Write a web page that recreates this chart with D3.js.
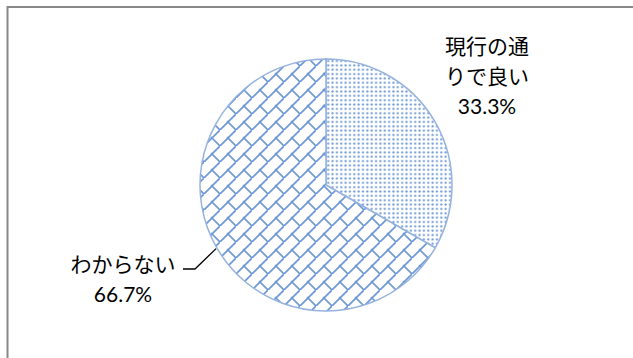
<!DOCTYPE html>
<html lang="ja">
    <head>
        <meta charset="utf-8">
        <title>Pie chart</title>
        <script src="https://cdn.jsdelivr.net/npm/d3@7"></script>
        <style>
            body { margin: 0; background: #fff; }
            text { font-family: "Lato", "Noto Sans CJK JP", sans-serif; fill: #000; }
        </style>
    </head>
    <body>
        <script>
            // Data
            var categories = ["現行の通りで良い", "わからない"];
            var values = [33.3, 66.7];
            var labelLines = [["現行の通", "りで良い"], ["わからない"]];

            // Layout
            var w = 633, h = 358;
            var cx = 326, cy = 185, r = 126;
            var labelPos = [[487, 47], [123, 265]];
            var lineGap = 30;

            var svg = d3.select("body").append("svg")
                .attr("width", w)
                .attr("height", h);

            var defs = svg.append("defs");

            // Small grid dots
            var dots = defs.append("pattern")
                .attr("id", "dots")
                .attr("patternUnits", "userSpaceOnUse")
                .attr("width", 4.35)
                .attr("height", 4.35);
            dots.append("rect").attr("width", 4.35).attr("height", 4.35).attr("fill", "#fff");
            dots.append("circle")
                .attr("cx", 2.2).attr("cy", 2.2).attr("r", 1.1)
                .attr("fill", "#6d98d8");

            // Diagonal brick
            var s = 16;
            var brick = defs.append("pattern")
                .attr("id", "brick")
                .attr("patternUnits", "userSpaceOnUse")
                .attr("width", s)
                .attr("height", s)
                .attr("x", cx)
                .attr("y", cy);
            brick.append("rect").attr("width", s).attr("height", s).attr("fill", "#fff");
            brick.append("path")
                .attr("d", "M" + (-1) + "," + (s + 1) + "L" + (s + 1) + "," + (-1) +
                           "M" + (s / 2 - 1) + "," + (s / 2 - 1) + "L" + (s + 1) + "," + (s + 1))
                .attr("stroke", "#6e98d8")
                .attr("stroke-width", 1.7)
                .attr("fill", "none");

            // Chart border (runs past the window on right and bottom)
            svg.append("rect")
                .attr("x", 7.5).attr("y", 7)
                .attr("width", 700).attr("height", 400)
                .attr("fill", "none")
                .attr("stroke", "#888")
                .attr("stroke-width", 2);

            var pie = d3.pie().sort(null).value(function(d) { return d; });
            var arcs = pie(values);
            var arc = d3.arc().innerRadius(0).outerRadius(r);
            var fills = ["url(#dots)", "url(#brick)"];

            var g = svg.append("g").attr("transform", "translate(" + cx + "," + cy + ")");

            g.selectAll("path.slice")
                .data(arcs)
                .enter()
                .append("path")
                .attr("class", "slice")
                .attr("d", arc)
                .attr("fill", function(d, i) { return fills[i]; })
                .attr("stroke", "#95b3de")
                .attr("stroke-width", 1.5);

            // Labels
            arcs.forEach(function(d, i) {
                var p = labelPos[i];
                var lines = labelLines[i].concat([values[i].toFixed(1) + "%"]);
                var t = svg.append("text")
                    .attr("text-anchor", "middle")
                    .attr("font-size", "21px");
                lines.forEach(function(line, k) {
                    t.append("tspan")
                        .attr("x", p[0])
                        .attr("y", p[1] + k * lineGap)
                        .attr("dy", "0.35em")
                        .text(line);
                });
            });

            // Leader line for the second slice
            var mid = (arcs[1].startAngle + arcs[1].endAngle) / 2;
            var ex = cx + Math.sin(mid) * (r + 1);
            var ey = cy - Math.cos(mid) * (r + 1);
            svg.append("path")
                .attr("d", "M183," + 269 + "L195," + 269 + "L" + ex + "," + ey)
                .attr("fill", "none")
                .attr("stroke", "#000")
                .attr("stroke-width", 1.3);
        </script>
    </body>
</html>
